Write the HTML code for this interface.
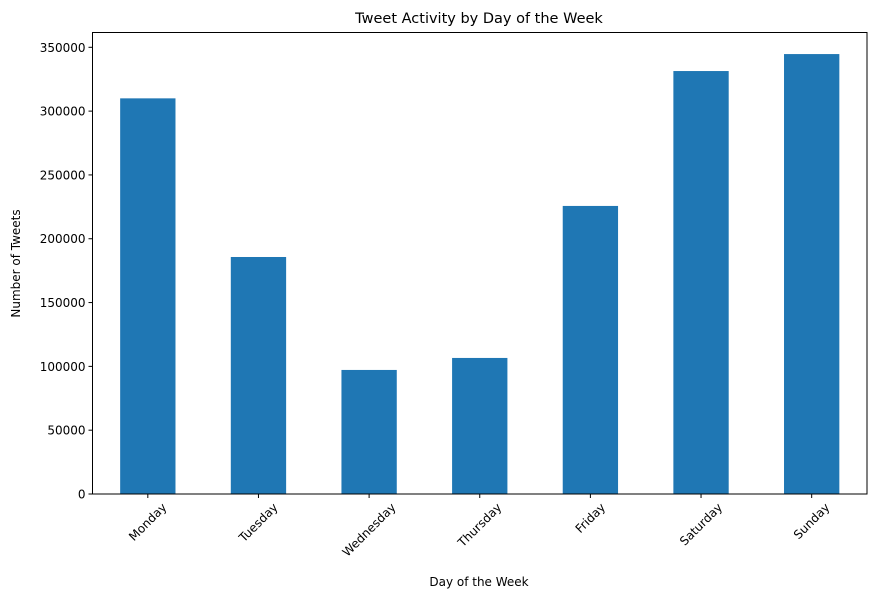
<!DOCTYPE html>
<html><head><meta charset="utf-8"><style>
body{margin:0;background:#fff;}
svg{font-family:"DejaVu Sans","Liberation Sans",sans-serif;}
</style></head><body>
<svg id="chart" width="876" height="600">
<text x="479" y="23" text-anchor="middle" font-size="14.5">Tweet Activity by Day of the Week</text>
<text x="479" y="586" text-anchor="middle" font-size="12">Day of the Week</text>
<text transform="translate(20,263.5) rotate(-90)" text-anchor="middle" font-size="12">Number of Tweets</text>
<g id="bars"></g><g id="ticks"></g>
<rect x="92.5" y="32.5" width="774.5" height="461.5" fill="none" stroke="#000" stroke-width="1"/>
</svg>
<script>
const categories=["Monday","Tuesday","Wednesday","Thursday","Friday","Saturday","Sunday"];
const values=[310000,185700,97200,106600,225700,331400,344700];
const yTicks=[0,50000,100000,150000,200000,250000,300000,350000];
const L=92.5,R=867,T=32.5,B=494,yMax=350000/(494-47.3)*(494-32.5);
const NS="http://www.w3.org/2000/svg";
const xs=i=>L+(i+0.5)*(R-L)/categories.length;
const ys=v=>B-v/yMax*(B-T);
const bw=(R-L)/categories.length*0.5;
const bars=document.getElementById('bars'),ticks=document.getElementById('ticks');
function mk(t,a,p){const e=document.createElementNS(NS,t);for(const k in a)e.setAttribute(k,a[k]);p.appendChild(e);return e;}
categories.forEach((c,i)=>{
 const r=mk('rect',{x:xs(i)-bw/2,y:ys(values[i]),width:bw,height:B-ys(values[i]),fill:'#1f77b4'},bars);
 
 
 mk('line',{x1:xs(i),x2:xs(i),y1:B,y2:B+4,stroke:'#000'},ticks);
 const t=mk('text',{'font-size':12,'text-anchor':'middle',x:0,y:4},ticks);
 t.textContent=c;
 
 
 const w=t.getComputedTextLength();
 const hb=(w+12)*0.7071;
 t.setAttribute('transform',`translate(${xs(i)},${B+7+hb/2}) rotate(-45)`);
});
yTicks.forEach(v=>{
 mk('line',{x1:L-4,x2:L,y1:ys(v),y2:ys(v),stroke:'#000'},ticks);
 const t=mk('text',{x:L-7,y:ys(v)+4.5,'font-size':12,'text-anchor':'end'},ticks);
 t.textContent=v;
 
 
});
</script>
</body></html>
